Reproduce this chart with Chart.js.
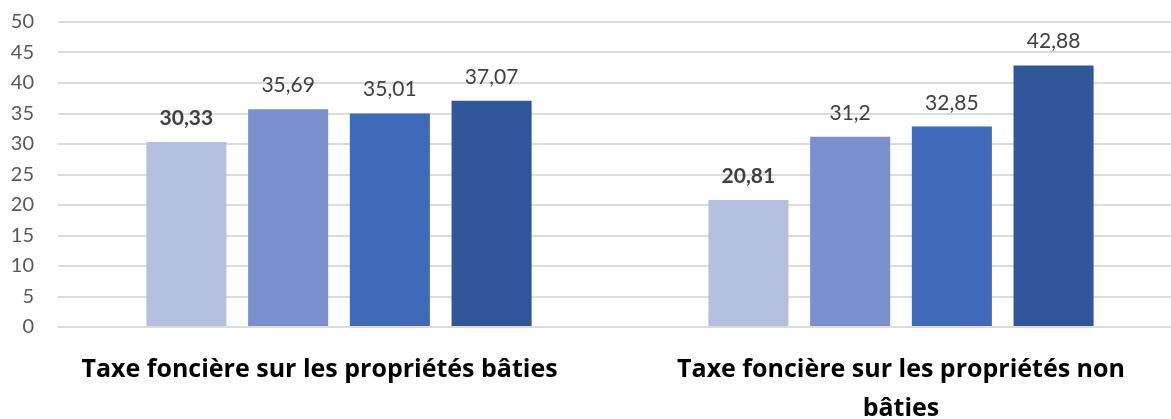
<!DOCTYPE html>
<html>
<head>
<meta charset="utf-8">
<script src="https://cdn.jsdelivr.net/npm/chart.js@4"></script>
<style>
  html, body { margin: 0; padding: 0; background: #ffffff; overflow: hidden; }
  #wrap { width: 1171px; height: 419px; overflow: hidden; }
</style>
</head>
<body>
<div id="wrap"><canvas id="c" width="1182" height="419"></canvas></div>
<script>
const categories = [
  ['Taxe foncière sur les propriétés bâties\u00a0\u00a0\u00a0\u00a0\u00a0\u00a0'],
  ['Taxe foncière sur les propriétés non', 'bâties']
];
const seriesNames = ['Série 1', 'Série 2', 'Série 3', 'Série 4'];
const series1 = [30.33, 20.81];
const series2 = [35.69, 31.2];
const series3 = [35.01, 32.85];
const series4 = [37.07, 42.88];
const yTicks = [0, 5, 10, 15, 20, 25, 30, 35, 40, 45, 50];

const colors = ['#b4c0e0', '#7a91cf', '#3f69b9', '#30579a'];
const allSeries = [series1, series2, series3, series4];

const fmt = v => String(v).replace('.', ',');

const labelPlugin = {
  id: 'valueLabels',
  afterDatasetsDraw(chart) {
    const ctx = chart.ctx;
    ctx.save();
    chart.data.datasets.forEach((ds, di) => {
      const meta = chart.getDatasetMeta(di);
      meta.data.forEach((el, i) => {
        ctx.font = (di === 0 ? 'bold ' : '') + '21px Lato';
        ctx.fillStyle = '#404040';
        ctx.textAlign = 'center';
        ctx.textBaseline = 'alphabetic';
        ctx.fillText(fmt(ds.data[i]), el.x, el.y - 17);
      });
    });
    ctx.restore();
  }
};

new Chart(document.getElementById('c'), {
  type: 'bar',
  data: {
    labels: categories,
    datasets: allSeries.map((d, i) => ({
      label: seriesNames[i],
      data: d,
      backgroundColor: colors[i],
      borderWidth: 0,
      categoryPercentage: 0.724,
      barPercentage: 0.787
    }))
  },
  options: {
    responsive: false,
    animation: false,
    layout: { padding: { top: 22, right: 0, left: 0, bottom: 0 } },
    plugins: {
      legend: { display: false },
      tooltip: { enabled: false }
    },
    scales: {
      x: {
        grid: { display: false, drawTicks: false },
        border: { display: false },
        ticks: {
          color: '#000000',
          font: { family: 'Open Sans', size: 25, weight: 'bold', lineHeight: 1.56 },
          padding: 23,
          maxRotation: 0,
          autoSkip: false
        },
        afterFit(scale) { scale.height = 92; }
      },
      y: {
        min: 0,
        max: 50,
        afterBuildTicks(scale) { scale.ticks = yTicks.map(v => ({ value: v })); },
        grid: { color: '#dcdcdc', lineWidth: 2, drawTicks: false },
        border: { display: false },
        ticks: {
          color: '#595959',
          font: { family: 'Lato', size: 20 },
          padding: 24
        },
        afterFit(scale) {
          scale.width = 58;
          scale.paddingTop = 12;
          scale.paddingBottom = 12;
        }
      }
    }
  },
  plugins: [labelPlugin]
});
</script>
</body>
</html>
